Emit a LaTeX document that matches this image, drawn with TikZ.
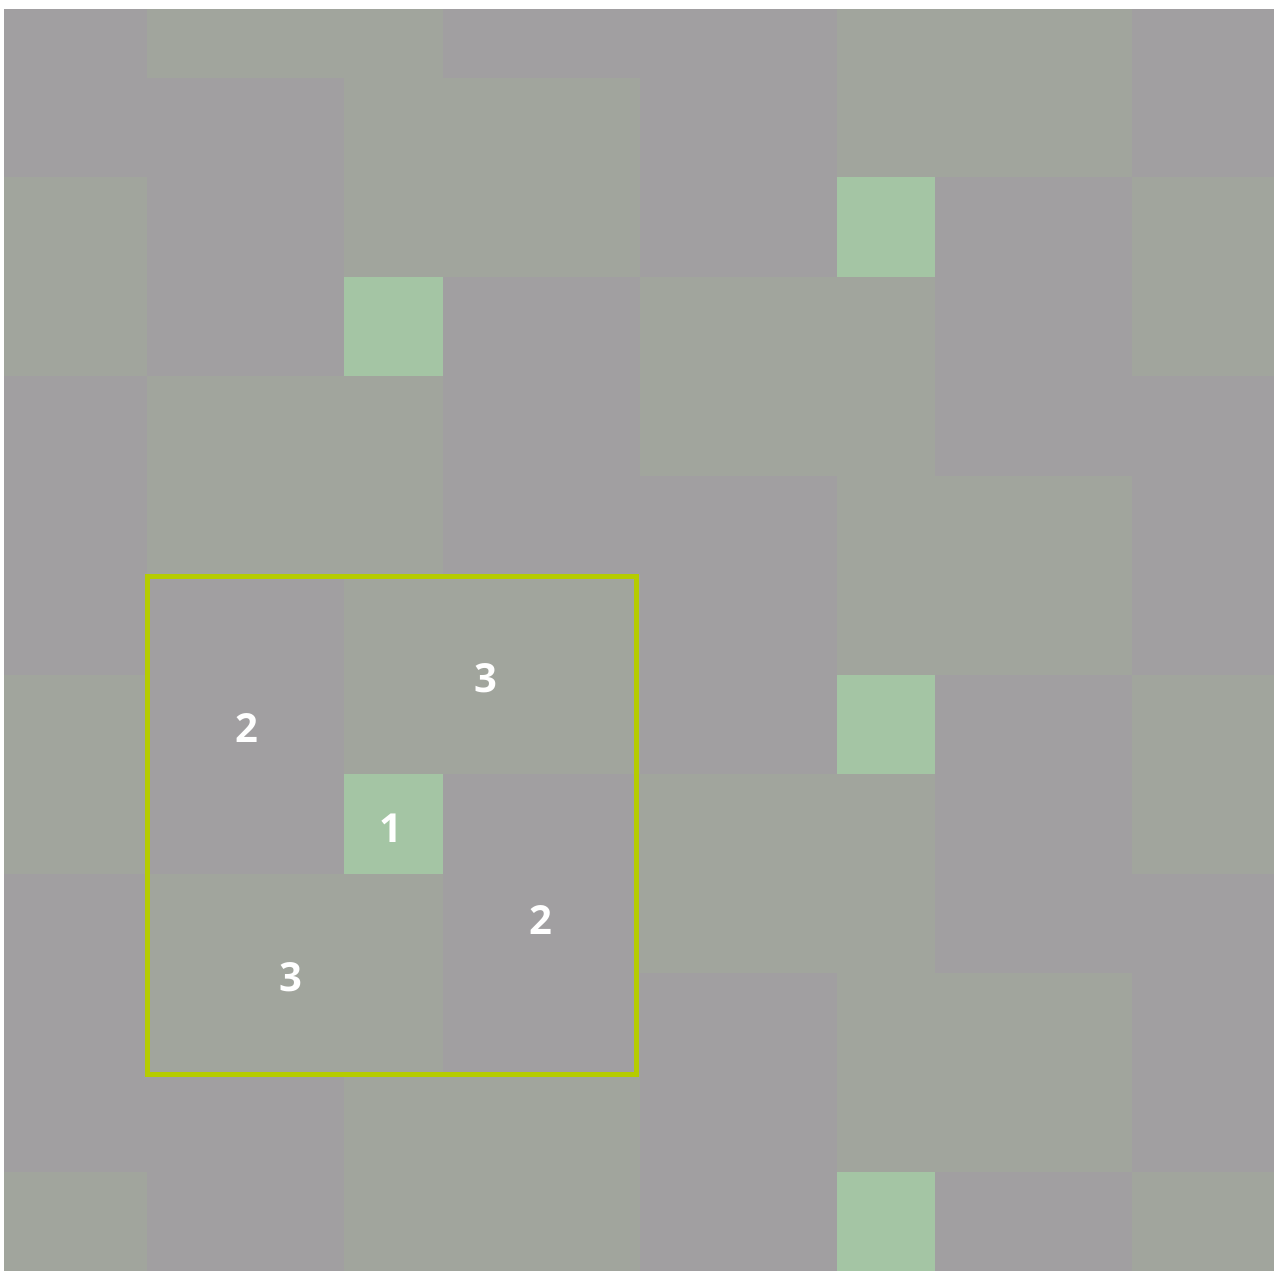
\documentclass[tikz,border=0pt]{standalone}
\usepackage{fontspec}
\setmainfont{Open Sans}
\definecolor{tilegray}{HTML}{A19FA1}
\definecolor{tilegreen}{HTML}{A1A59D}
\definecolor{tilesq}{HTML}{A4C5A4}
\definecolor{frame}{HTML}{B5CC00}
\tikzset{
  vrect/.style={fill=tilegray, draw=none},
  hrect/.style={fill=tilegreen, draw=none},
  sqtile/.style={fill=tilesq, draw=none},
  numlabel/.style={text=white, inner sep=0pt, font=\fontsize{40bp}{40bp}\selectfont\bfseries},
  outline/.style={draw=frame, line width=5bp}
}
\begin{document}
\begin{tikzpicture}[x=1bp,y=-1bp]
\useasboundingbox (0,0) rectangle (1274,1271);
\fill[white] (0,0) rectangle (1274,1271);
\begin{scope}
\clip (4,9) rectangle (1274,1271);
\def\ux{98.5}
\def\uy{99.5}
\foreach \i in {-1,0,1,2}{
  \foreach \j in {-2,-1,0,1,2}{
    \pgfmathsetmacro\X{147+5*\i*\ux}
    \pgfmathsetmacro\Y{575+(5*\j-\i)*\uy}
    \fill[vrect] (\X,\Y) rectangle ({\X+2*\ux},{\Y+3*\uy});
    \fill[hrect] ({\X+2*\ux},\Y) rectangle ({\X+5*\ux},{\Y+2*\uy});
    \fill[vrect] ({\X+3*\ux},{\Y+2*\uy}) rectangle ({\X+5*\ux},{\Y+5*\uy});
    \fill[hrect] (\X,{\Y+3*\uy}) rectangle ({\X+3*\ux},{\Y+5*\uy});
    \fill[sqtile] ({\X+2*\ux},{\Y+2*\uy}) rectangle ({\X+3*\ux},{\Y+3*\uy});
  }
}
\end{scope}
\draw[outline] (147.5,576) rectangle (636,1074);
\node[numlabel] (n1) at (391,828) {1};
\node[numlabel] (n2a) at (247,728) {2};
\node[numlabel] (n2b) at (541,920) {2};
\node[numlabel] (n3a) at (486,678) {3};
\node[numlabel] (n3b) at (291,977) {3};
\end{tikzpicture}
\end{document}
